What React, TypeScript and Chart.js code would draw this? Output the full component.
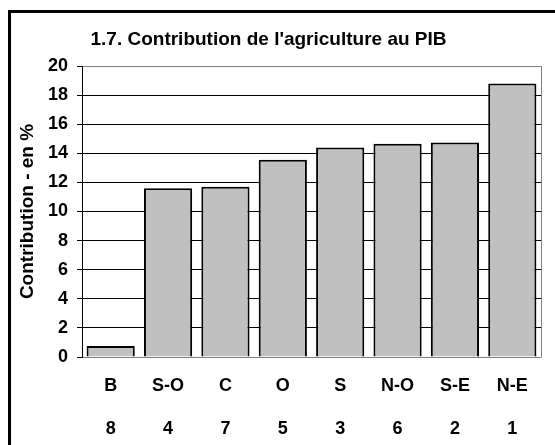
import React, { useEffect, useRef } from "react";
import { Chart, registerables } from "chart.js";

Chart.register(...registerables);

const regions = ["B", "S-O", "C", "O", "S", "N-O", "S-E", "N-E"];
const ranks = ["8", "4", "7", "5", "3", "6", "2", "1"];
const contribution = [0.75, 11.6, 11.7, 13.55, 14.4, 14.65, 14.75, 18.8];
const yTicks = [0, 2, 4, 6, 8, 10, 12, 14, 16, 18, 20];
const chartTitle = "1.7. Contribution de l'agriculture au PIB";

const FONT = "'Liberation Sans', Arial, sans-serif";

const framePlugin = {
  id: "frame",
  beforeDraw(chart: any) {
    const ctx = chart.ctx;
    ctx.save();
    ctx.fillStyle = "#ffffff";
    ctx.fillRect(0, 0, chart.width, chart.height);
    ctx.lineWidth = 3;
    ctx.strokeStyle = "#000000";
    ctx.strokeRect(9.5, 11.5, chart.width + 10, chart.height + 10);
    ctx.fillStyle = "#000000";
    ctx.font = "bold 19px " + FONT;
    ctx.textAlign = "center";
    ctx.textBaseline = "alphabetic";
    ctx.fillText(chartTitle, 268.5, 45);
    ctx.restore();
  },
  afterDatasetsDraw(chart: any) {
    const { ctx, chartArea } = chart;
    ctx.save();
    ctx.lineWidth = 1;
    ctx.strokeStyle = "#808080";
    ctx.beginPath();
    ctx.moveTo(chartArea.left, chartArea.top + 0.5);
    ctx.lineTo(chartArea.right + 0.5, chartArea.top + 0.5);
    ctx.lineTo(chartArea.right + 0.5, chartArea.bottom);
    ctx.stroke();
    ctx.beginPath();
    ctx.moveTo(chartArea.left, chartArea.bottom + 0.5);
    ctx.lineTo(chartArea.right + 0.5, chartArea.bottom + 0.5);
    ctx.stroke();
    ctx.strokeStyle = "#000000";
    ctx.beginPath();
    ctx.moveTo(chartArea.left + 0.5, chartArea.top);
    ctx.lineTo(chartArea.left + 0.5, chartArea.bottom + 1);
    ctx.stroke();
    ctx.restore();
  },
};

export default function App() {
  const ref = useRef<HTMLCanvasElement | null>(null);
  useEffect(() => {
    if (!ref.current) return;
    const chart = new Chart(ref.current, {
      type: "bar",
      data: {
        labels: regions.map((r, i) => [r, ranks[i]]),
        datasets: [
          {
            data: contribution,
            backgroundColor: "#c0c0c0",
            borderColor: "#000000",
            borderWidth: 2,
            categoryPercentage: 1,
            barPercentage: 0.84,
          },
        ],
      },
      options: {
        animation: false,
        responsive: false,
        maintainAspectRatio: false,
        layout: { padding: { left: 14, right: 14, top: 66, bottom: 0 } },
        plugins: {
          legend: { display: false },
          tooltip: { enabled: false },
          title: { display: false },
        },
        scales: {
          x: {
            grid: { display: false, drawTicks: false },
            border: { display: false },
            ticks: {
              color: "#000000",
              font: { family: FONT, size: 18, weight: "bold", lineHeight: 2.39 },
              maxRotation: 0,
              autoSkip: false,
              padding: 8,
            },
            afterFit(scale: any) {
              scale.height = 88;
            },
          },
          y: {
            min: 0,
            max: 20,
            afterBuildTicks(scale: any) {
              scale.ticks = yTicks.map((v) => ({ value: v }));
            },
            grid: {
              color: (c: any) =>
                c.tick && (c.tick.value === 20 || c.tick.value === 0) ? "#808080" : "#000000",
              tickColor: "#000000",
              tickLength: 5,
              lineWidth: 1,
            },
            border: { display: false },
            ticks: {
              color: "#000000",
              font: { family: FONT, size: 18, weight: "bold" },
              padding: 9,
            },
            title: {
              display: true,
              text: "Contribution - en %",
              color: "#000000",
              font: { family: FONT, size: 19, weight: "bold" },
              padding: { top: 2, bottom: 4 },
            },
            afterFit(scale: any) {
              scale.width = 68;
            },
          },
        },
      },
      plugins: [framePlugin],
    });
    return () => chart.destroy();
  }, []);
  return (
    <div style={{ position: "fixed", left: 0, top: 0, width: 555, height: 445 }}>
      <canvas ref={ref} width={555} height={445} style={{ display: "block" }} />
    </div>
  );
}
